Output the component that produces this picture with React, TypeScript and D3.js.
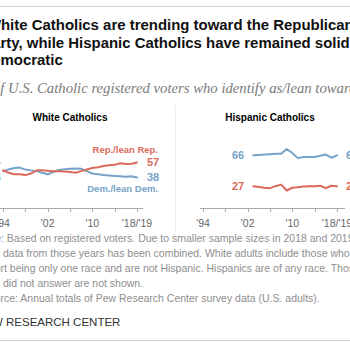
import React, { useEffect, useRef } from 'react';
import * as d3 from 'd3';

// ---------- DATA ----------
const titleLines = [
  'White Catholics are trending toward the Republican',
  'Party, while Hispanic Catholics have remained solidly',
  'Democratic',
];
const subtitle = '% of U.S. Catholic registered voters who identify as/lean toward each party';
const noteLines = [
  'Note: Based on registered voters. Due to smaller sample sizes in 2018 and 2019,',
  'data from those years has been combined. White adults include those who',
  'report being only one race and are not Hispanic. Hispanics are of any race. Those',
  'who did not answer are not shown.',
  'Source: Annual totals of Pew Research Center survey data (U.S. adults).',
];
const sourceLabel = 'PEW RESEARCH CENTER';

const panelTitles = ['White Catholics', 'Hispanic Catholics'];
const seriesLabels = ['Rep./lean Rep.', 'Dem./lean Dem.'];

const whiteYears = [1994, 1995, 1996, 1997, 1998, 1999, 2000, 2001, 2002, 2003, 2004, 2005, 2006,
  2007, 2008, 2009, 2010, 2011, 2012, 2013, 2014, 2015, 2016, 2017, 2018];
const whiteRep = [47, 44, 42, 42, 41, 43, 47, 47, 46.5, 46, 46, 45.5, 45, 44, 46, 48, 50, 51, 52.5,
  53.5, 54, 56, 55, 55.5, 57];
const whiteDem = [46, 48, 50, 50.5, 48, 47, 46, 44, 42, 45, 47.5, 48.5, 49, 49.5, 49, 46, 43, 42, 41,
  40.5, 40, 39.5, 39, 39.5, 38];

const hispYears = [2003, 2004, 2005, 2006, 2007, 2008, 2009, 2010, 2011, 2012, 2013, 2014, 2015,
  2016, 2017, 2018];
const hispDem = [66, 66.5, 67, 67.5, 68, 68, 74, 69, 62.5, 64, 64, 64, 65.5, 67, 63, 66];
const hispRep = [27, 26, 25, 24.5, 27, 29, 21.5, 25, 25.5, 26.5, 27, 27, 27.5, 24.5, 27.5, 27];

const tickYears = [1994, 1998, 2002, 2006, 2010, 2014, 2018];
const tickLabels = ["'94", '', "'02", '', "'10", '', "'18/'19"];

const startLabels = { whiteRep: '47', whiteDem: '46', hispDem: '66', hispRep: '27' };
const endLabels = { whiteRep: '57', whiteDem: '38', hispDem: '66', hispRep: '27' };

// ---------- STYLE ----------
const RED = '#dd6a5c';
const BLUE = '#77a3c8';
const SANS = "'Liberation Sans', Arial, sans-serif";
const SERIF = "'Liberation Serif', Georgia, serif";

export default function App() {
  const ref = useRef<SVGSVGElement>(null);

  useEffect(() => {
    const svg = d3.select(ref.current);
    svg.selectAll('*').remove();

    // Places a text so that the character at index `cut` starts at startX.
    // Optionally fits the font size so chars [cut, fitEnd) span fitWidth.
    function place(text: string, y: number, o: any) {
      const t = svg.append('text')
        .attr('x', 0).attr('y', y)
        .attr('font-family', o.family || SANS)
        .attr('font-size', o.size)
        .attr('font-weight', o.weight || 'normal')
        .attr('font-style', o.style || 'normal')
        .attr('fill', o.fill || '#000')
        .text(text);
      const node = t.node() as SVGTextElement;
      let size = o.size;
      if (o.fitEnd) {
        const w = node.getSubStringLength(o.cut, o.fitEnd - o.cut);
        size = (o.size * o.fitWidth) / w;
        t.attr('font-size', size);
      }
      const pre = o.cut > 0 ? node.getSubStringLength(0, o.cut) : 0;
      t.attr('x', o.startX - pre);
      return size;
    }

    // rules
    svg.append('line').attr('x1', 0).attr('x2', 350).attr('y1', 6.5).attr('y2', 6.5)
      .attr('stroke', '#d0d0d0').attr('stroke-width', 1);
    svg.append('line').attr('x1', 0).attr('x2', 350).attr('y1', 340.5).attr('y2', 340.5)
      .attr('stroke', '#d0d0d0').attr('stroke-width', 1);

    // title
    const t0 = titleLines[0];
    const ts = place(t0, 30, { size: 15, weight: 'bold', fill: '#111', cut: 1, startX: 1,
      fitEnd: t0.length - 1, fitWidth: 344 });
    place(titleLines[1], 47.5, { size: ts, weight: 'bold', fill: '#111', cut: 2, startX: 0.5 });
    place(titleLines[2], 65, { size: ts, weight: 'bold', fill: '#111', cut: 2, startX: 0.5 });

    // subtitle
    const sEnd = subtitle.indexOf('toward') + 5;
    place(subtitle, 93, { size: 13, family: SERIF, style: 'italic', fill: '#7a7a7a', cut: 3,
      startX: 0.3, fitEnd: sEnd, fitWidth: 349 });

    // notes
    const n0 = noteLines[0];
    const ns = place(n0, 242, { size: 12, fill: '#8e8e8e', cut: 4, startX: 1,
      fitEnd: n0.length - 2, fitWidth: 347 });
    place(noteLines[1], 257, { size: ns, fill: '#8e8e8e', cut: 0, startX: 3 });
    place(noteLines[2], 272, { size: ns, fill: '#8e8e8e', cut: 4, startX: 0.5 });
    place(noteLines[3], 287, { size: ns, fill: '#8e8e8e', cut: 4, startX: 3 });
    place(noteLines[4], 302, { size: ns, fill: '#8e8e8e', cut: 3, startX: 0.5 });
    place(sourceLabel, 326, { size: 11.5, fill: '#333', weight: 500, cut: 4, startX: 6 });

    // faint separator between panels
    svg.append('line').attr('x1', 175.5).attr('x2', 175.5).attr('y1', 105).attr('y2', 232)
      .attr('stroke', '#efefef').attr('stroke-width', 1);

    // scales
    const y = d3.scaleLinear().domain([0, 100]).range([207.5, 128.5]);
    const panels = [
      { x: d3.scaleLinear().domain([1994, 2018]).range([3, 137]), axis: [-3, 143], title: panelTitles[0], titleX: 70 },
      { x: d3.scaleLinear().domain([1994, 2018]).range([203, 337]), axis: [200, 345], title: panelTitles[1], titleX: 270 },
    ];

    panels.forEach((p) => {
      const g = svg.append('g');
      g.append('text').attr('x', p.titleX).attr('y', 121).attr('text-anchor', 'middle')
        .attr('font-family', SANS).attr('font-weight', 'bold').attr('font-size', 10)
        .attr('fill', '#000').text(p.title);
      g.append('line').attr('x1', p.axis[0]).attr('x2', p.axis[1]).attr('y1', 208.5).attr('y2', 208.5)
        .attr('stroke', '#aaa').attr('stroke-width', 1);
      tickYears.forEach((yr, i) => {
        const xx = Math.round(p.x(yr)) + 0.5;
        g.append('line').attr('x1', xx).attr('x2', xx).attr('y1', 208.5).attr('y2', 212)
          .attr('stroke', '#aaa').attr('stroke-width', 1);
        if (tickLabels[i]) {
          g.append('text').attr('x', p.x(yr)).attr('y', 227).attr('text-anchor', 'middle')
            .attr('font-family', SANS).attr('font-size', 10.5).attr('fill', '#666')
            .text(tickLabels[i]);
        }
      });
    });

    const line = (xs: any, yrs: number[]) =>
      d3.line<number>().x((_, i) => xs(yrs[i])).y((v) => y(v));

    const L = panels[0].x;
    const R = panels[1].x;
    const series = [
      { xs: L, yrs: whiteYears, vals: whiteDem, color: BLUE },
      { xs: L, yrs: whiteYears, vals: whiteRep, color: RED },
      { xs: R, yrs: hispYears, vals: hispDem, color: BLUE },
      { xs: R, yrs: hispYears, vals: hispRep, color: RED },
    ];
    series.forEach((s) => {
      svg.append('path').attr('d', line(s.xs, s.yrs)(s.vals) as string)
        .attr('fill', 'none').attr('stroke', s.color).attr('stroke-width', 2)
        .attr('stroke-linejoin', 'round').attr('stroke-linecap', 'round');
    });

    const lab = (txt: string, x: number, yy: number, anchor: string, color: string, size = 11) =>
      svg.append('text').attr('x', x).attr('y', yy).attr('text-anchor', anchor)
        .attr('font-family', SANS).attr('font-weight', 'bold').attr('font-size', size)
        .attr('fill', color).attr('dominant-baseline', 'central').text(txt);

    // white panel labels
    const wl = whiteYears.length - 1;
    lab(endLabels.whiteRep, L(whiteYears[wl]) + 10, y(whiteRep[wl]), 'start', RED);
    lab(endLabels.whiteDem, L(whiteYears[wl]) + 10, y(whiteDem[wl]), 'start', BLUE);
    lab(startLabels.whiteRep, 0.8, y(whiteRep[0]) - 4, 'end', RED, 10);
    lab(startLabels.whiteDem, 0.8, y(whiteDem[0]) + 6, 'end', BLUE, 10);
    lab(seriesLabels[0], 158, y(whiteRep[wl]) - 13, 'end', RED, 9.5);
    lab(seriesLabels[1], 158, y(whiteDem[wl]) + 11, 'end', BLUE, 9.5);

    // hispanic panel labels
    const hl = hispYears.length - 1;
    lab(startLabels.hispDem, R(hispYears[0]) - 9, y(hispDem[0]), 'end', BLUE);
    lab(startLabels.hispRep, R(hispYears[0]) - 9, y(hispRep[0]), 'end', RED);
    lab(endLabels.hispDem, R(hispYears[hl]) + 9, y(hispDem[hl]), 'start', BLUE);
    lab(endLabels.hispRep, R(hispYears[hl]) + 9, y(hispRep[hl]), 'start', RED);
  }, []);

  return (
    <svg
      ref={ref}
      width={350}
      height={350}
      style={{ position: 'absolute', left: 0, top: 0, background: '#fff', overflow: 'hidden' }}
    />
  );
}
